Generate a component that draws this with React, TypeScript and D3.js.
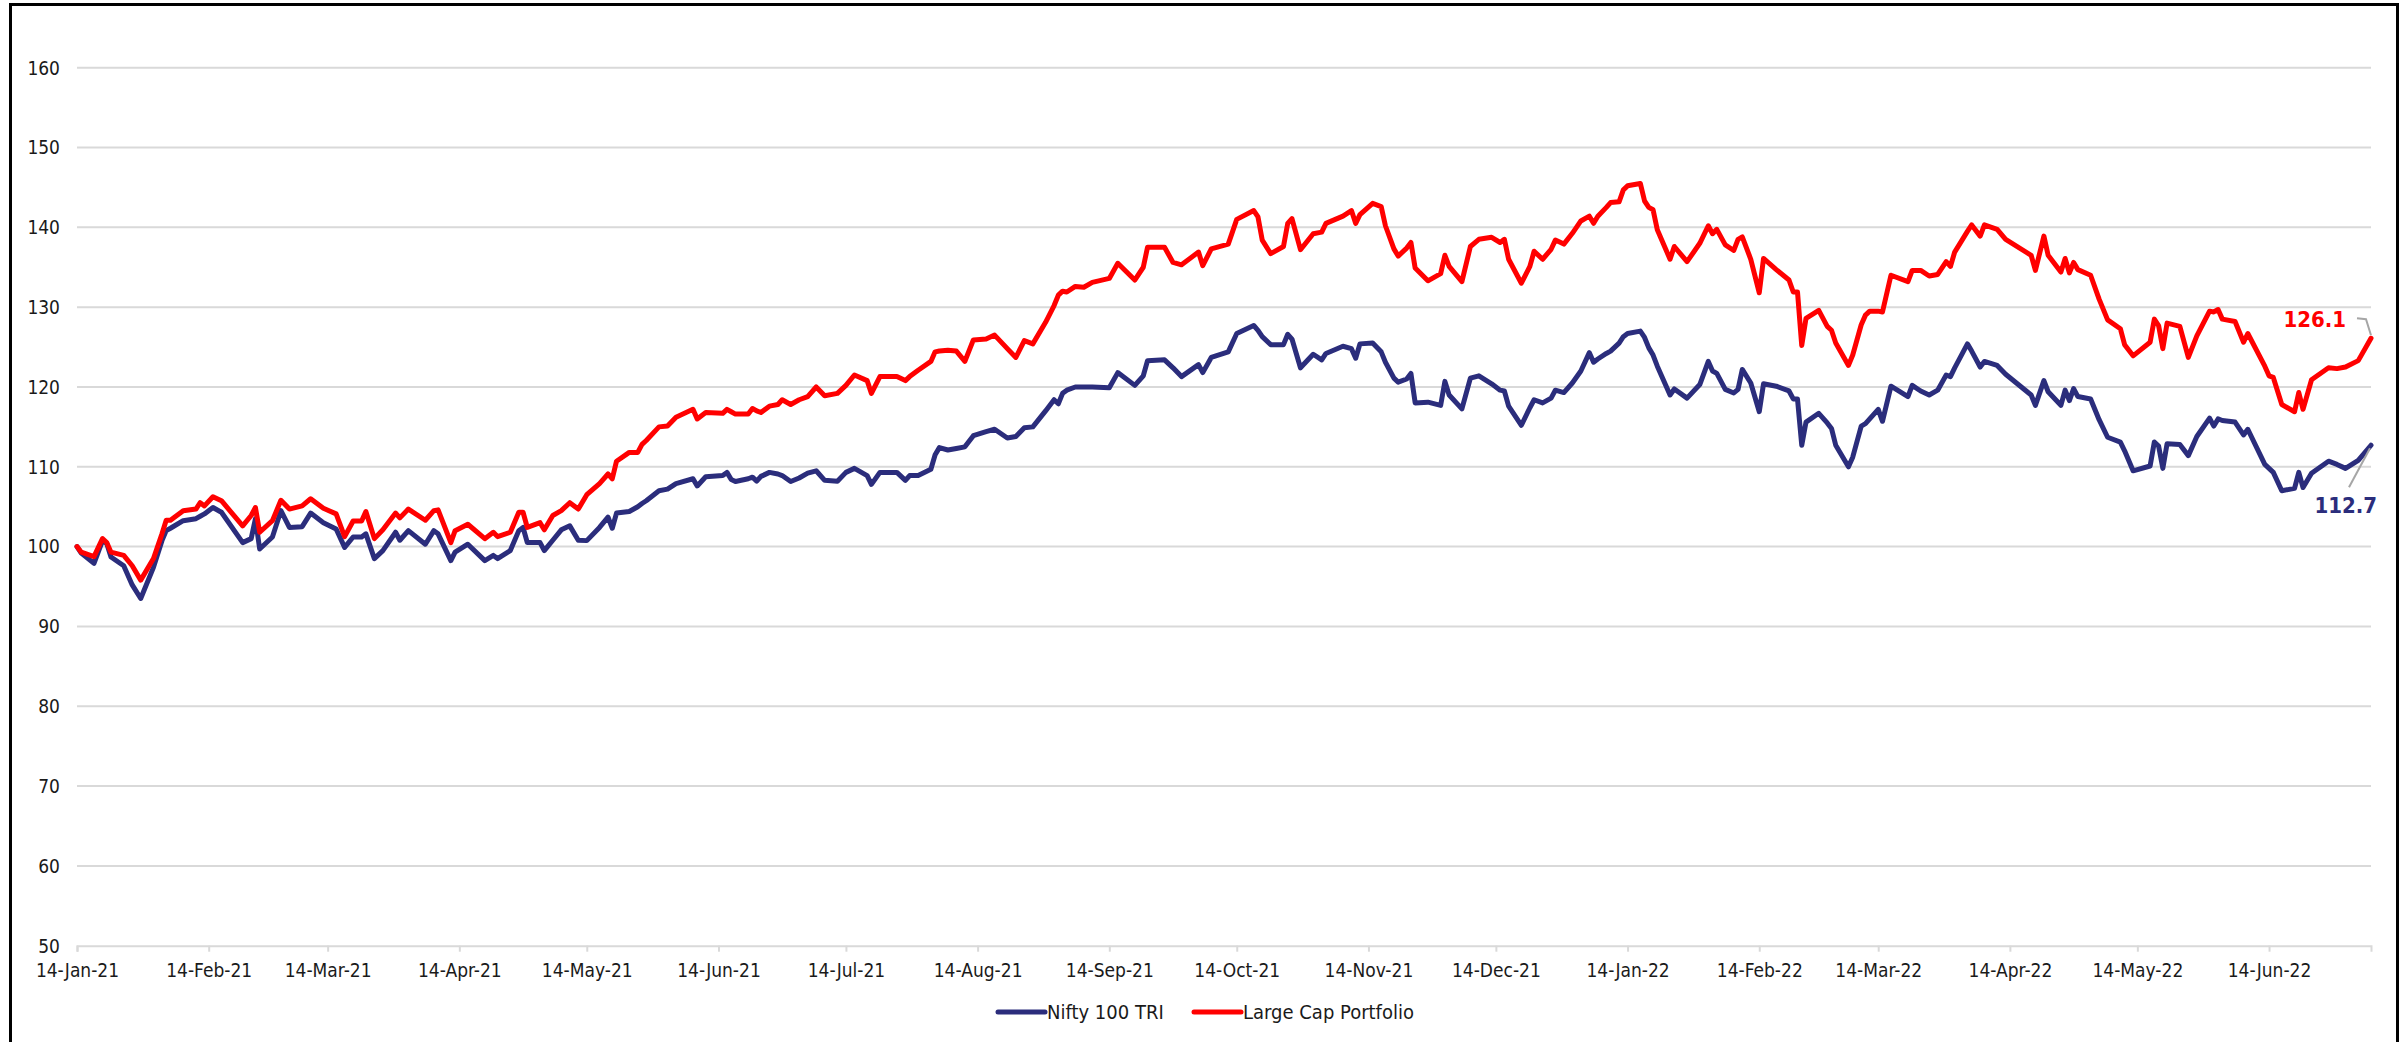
import { useEffect, useRef } from 'react';
import * as d3 from 'd3';

// rebased to 100 on 14-Jan-21
const dates = [
	'2021-01-14', '2021-01-15', '2021-01-18', '2021-01-20', '2021-01-21', '2021-01-22', '2021-01-25', '2021-01-27', '2021-01-29',
	'2021-02-01', '2021-02-03', '2021-02-04', '2021-02-05', '2021-02-08', '2021-02-11', '2021-02-12', '2021-02-13', '2021-02-15',
	'2021-02-17', '2021-02-22', '2021-02-24', '2021-02-25', '2021-02-26', '2021-03-01', '2021-03-03', '2021-03-05', '2021-03-08',
	'2021-03-10', '2021-03-13', '2021-03-16', '2021-03-18', '2021-03-20', '2021-03-22', '2021-03-23', '2021-03-25', '2021-03-27',
	'2021-03-30', '2021-03-31', '2021-04-02', '2021-04-06', '2021-04-08', '2021-04-09', '2021-04-12', '2021-04-13', '2021-04-16',
	'2021-04-20', '2021-04-22', '2021-04-23', '2021-04-26', '2021-04-28', '2021-04-29', '2021-04-30', '2021-05-03', '2021-05-04',
	'2021-05-06', '2021-05-08', '2021-05-10', '2021-05-12', '2021-05-14', '2021-05-17', '2021-05-19', '2021-05-20', '2021-05-21',
	'2021-05-24', '2021-05-26', '2021-05-27', '2021-05-28', '2021-05-31', '2021-06-02', '2021-06-04', '2021-06-08', '2021-06-09',
	'2021-06-11', '2021-06-15', '2021-06-16', '2021-06-17', '2021-06-18', '2021-06-21', '2021-06-22', '2021-06-23', '2021-06-24',
	'2021-06-26', '2021-06-28', '2021-06-29', '2021-07-01', '2021-07-03', '2021-07-05', '2021-07-07', '2021-07-09', '2021-07-12',
	'2021-07-14', '2021-07-16', '2021-07-19', '2021-07-20', '2021-07-22', '2021-07-26', '2021-07-28', '2021-07-29', '2021-07-31',
	'2021-08-03', '2021-08-04', '2021-08-05', '2021-08-07', '2021-08-09', '2021-08-11', '2021-08-13', '2021-08-16', '2021-08-18',
	'2021-08-21', '2021-08-23', '2021-08-25', '2021-08-27', '2021-08-30', '2021-09-01', '2021-09-02', '2021-09-03', '2021-09-04',
	'2021-09-06', '2021-09-08', '2021-09-10', '2021-09-14', '2021-09-16', '2021-09-20', '2021-09-22', '2021-09-23', '2021-09-27',
	'2021-09-29', '2021-10-01', '2021-10-05', '2021-10-06', '2021-10-08', '2021-10-12', '2021-10-14', '2021-10-18', '2021-10-19',
	'2021-10-20', '2021-10-22', '2021-10-25', '2021-10-26', '2021-10-27', '2021-10-29', '2021-11-01', '2021-11-03', '2021-11-04',
	'2021-11-08', '2021-11-10', '2021-11-11', '2021-11-12', '2021-11-15', '2021-11-17', '2021-11-18', '2021-11-20', '2021-11-21',
	'2021-11-23', '2021-11-24', '2021-11-25', '2021-11-28', '2021-12-01', '2021-12-02', '2021-12-03', '2021-12-06', '2021-12-08',
	'2021-12-10', '2021-12-13', '2021-12-15', '2021-12-16', '2021-12-17', '2021-12-20', '2021-12-22', '2021-12-23', '2021-12-25',
	'2021-12-27', '2021-12-28', '2021-12-30', '2022-01-01', '2022-01-03', '2022-01-05', '2022-01-06', '2022-01-07', '2022-01-09',
	'2022-01-10', '2022-01-12', '2022-01-13', '2022-01-14', '2022-01-17', '2022-01-18', '2022-01-19', '2022-01-20', '2022-01-21',
	'2022-01-24', '2022-01-25', '2022-01-28', '2022-01-31', '2022-02-02', '2022-02-03', '2022-02-04', '2022-02-06', '2022-02-08',
	'2022-02-09', '2022-02-10', '2022-02-12', '2022-02-14', '2022-02-15', '2022-02-18', '2022-02-21', '2022-02-22', '2022-02-23',
	'2022-02-24', '2022-02-25', '2022-02-28', '2022-03-02', '2022-03-03', '2022-03-04', '2022-03-07', '2022-03-08', '2022-03-10',
	'2022-03-11', '2022-03-12', '2022-03-14', '2022-03-15', '2022-03-17', '2022-03-21', '2022-03-22', '2022-03-24', '2022-03-26',
	'2022-03-28', '2022-03-30', '2022-03-31', '2022-04-01', '2022-04-04', '2022-04-05', '2022-04-07', '2022-04-08', '2022-04-11',
	'2022-04-13', '2022-04-19', '2022-04-20', '2022-04-22', '2022-04-23', '2022-04-26', '2022-04-27', '2022-04-28', '2022-04-29',
	'2022-04-30', '2022-05-03', '2022-05-05', '2022-05-07', '2022-05-10', '2022-05-11', '2022-05-13', '2022-05-17', '2022-05-18',
	'2022-05-19', '2022-05-20', '2022-05-21', '2022-05-24', '2022-05-26', '2022-05-28', '2022-05-31', '2022-06-01', '2022-06-02',
	'2022-06-03', '2022-06-06', '2022-06-08', '2022-06-09', '2022-06-13', '2022-06-14', '2022-06-15', '2022-06-17', '2022-06-20',
	'2022-06-21', '2022-06-22', '2022-06-24', '2022-06-28', '2022-06-30', '2022-07-02', '2022-07-05', '2022-07-08',
];

const nifty100Tri = [
	100, 99.2, 97.9, 100.75, 100.4, 98.7, 97.6, 95.2, 93.5,
	97.4, 100.75, 102, 102.3, 103.25, 103.5, 103.8, 104.1, 104.9,
	104.3, 100.5, 101, 103.5, 99.7, 101.2, 104.5, 102.4, 102.5,
	104.2, 103, 102.2, 99.9, 101.2, 101.2, 101.6, 98.5, 99.5,
	101.8, 100.8, 102, 100.3, 102, 101.6, 98.25, 99.3, 100.3,
	98.25, 98.9, 98.5, 99.5, 102, 102.4, 100.5, 100.5, 99.5,
	100.8, 102.1, 102.6, 100.8, 100.75, 102.4, 103.7, 102.3, 104.2,
	104.4, 105, 105.4, 105.75, 107, 107.2, 107.9, 108.5, 107.6,
	108.75, 108.9, 109.3, 108.4, 108.15, 108.5, 108.7, 108.2, 108.8,
	109.3, 109.1, 108.9, 108.15, 108.6, 109.2, 109.5, 108.3, 108.2,
	109.3, 109.8, 108.9, 107.8, 109.3, 109.3, 108.3, 108.9, 108.9,
	109.7, 111.5, 112.4, 112.1, 112.3, 112.5, 113.9, 114.4, 114.7,
	113.6, 113.8, 114.9, 115, 117, 118.4, 117.9, 119.2, 119.6,
	120, 120, 120, 119.9, 121.8, 120.2, 121.4, 123.3, 123.4,
	122.4, 121.3, 122.8, 121.8, 123.7, 124.4, 126.7, 127.7, 127.1,
	126.3, 125.3, 125.3, 126.6, 126, 122.4, 124.1, 123.4, 124.2,
	125.1, 124.8, 123.6, 125.4, 125.5, 124.4, 123.1, 121.1, 120.6,
	121, 121.7, 118, 118.1, 117.7, 120.7, 119, 117.25, 121.1,
	121.4, 120.4, 119.6, 119.5, 117.6, 115.2, 117.4, 118.4, 118,
	118.6, 119.6, 119.3, 120.5, 122, 124.3, 123.1, 123.5, 124.2,
	124.5, 125.5, 126.3, 126.7, 127, 126.2, 124.9, 124, 122.6,
	119, 119.75, 118.6, 120.3, 123.2, 122, 121.7, 119.7, 119.25,
	119.7, 122.2, 120.5, 116.9, 120.4, 120.1, 119.5, 118.5, 118.5,
	112.7, 115.6, 116.7, 115.5, 114.8, 112.7, 110, 111.2, 115.1,
	115.4, 116, 117.2, 115.7, 120.1, 118.8, 120.2, 119.5, 119,
	119.6, 121.5, 121.3, 122.4, 125.4, 124.5, 122.5, 123.2, 122.7,
	121.6, 119, 117.7, 120.8, 119.4, 117.7, 119.6, 118.3, 119.8,
	118.8, 118.5, 115.9, 113.7, 113.1, 112, 109.5, 110.1, 113.1,
	112.6, 109.8, 112.9, 112.8, 111.4, 113.8, 116.1, 115.1, 116,
	115.8, 115.6, 114, 114.7, 110.3, 109.8, 109.3, 107, 107.3,
	109.3, 107.4, 109.2, 110.7, 110.3, 109.8, 110.8, 112.7,
];

const largeCapPortfolio = [
	100, 99.3, 98.75, 101, 100.5, 99.3, 98.9, 97.6, 95.8,
	98.5, 101.6, 103.3, 103.3, 104.5, 104.7, 105.5, 105.1, 106.25,
	105.75, 102.6, 103.9, 104.9, 101.8, 103.25, 105.8, 104.7, 105.1,
	106, 104.8, 104.1, 101.25, 103.2, 103.2, 104.4, 101, 102.1,
	104.2, 103.6, 104.7, 103.3, 104.5, 104.6, 100.5, 102, 102.8,
	101, 101.8, 101.25, 101.8, 104.3, 104.3, 102.4, 103, 102.1,
	103.9, 104.5, 105.5, 104.7, 106.5, 107.9, 109.1, 108.5, 110.7,
	111.8, 111.8, 112.8, 113.3, 115, 115.1, 116.2, 117.2, 116,
	116.8, 116.7, 117.2, 116.9, 116.6, 116.6, 117.3, 117, 116.8,
	117.6, 117.8, 118.4, 117.8, 118.4, 118.8, 120, 118.9, 119.2,
	120.2, 121.5, 120.8, 119.2, 121.3, 121.3, 120.8, 121.3, 122.1,
	123.2, 124.4, 124.5, 124.6, 124.5, 123.2, 125.9, 126, 126.5,
	124.8, 123.7, 125.8, 125.4, 128.1, 130.2, 131.5, 132, 131.9,
	132.6, 132.5, 133.1, 133.6, 135.5, 133.4, 135, 137.5, 137.5,
	135.6, 135.3, 136.9, 135.2, 137.3, 137.9, 141, 142.1, 141.3,
	138.4, 136.7, 137.6, 140.5, 141.1, 137.2, 139.2, 139.4, 140.5,
	141.4, 142.1, 140.5, 141.6, 143, 142.6, 140.2, 137.3, 136.4,
	137.4, 138.1, 134.9, 133.3, 134.2, 136.5, 135.1, 133.2, 137.6,
	138.5, 138.75, 138.1, 138.5, 136, 133, 135.1, 137, 136,
	137.25, 138.4, 137.9, 139.25, 140.8, 141.4, 140.5, 141.4, 142.5,
	143.1, 143.2, 144.7, 145.2, 145.5, 143.3, 142.5, 142.2, 139.7,
	136, 137.6, 135.7, 138, 140.2, 139.2, 139.75, 137.8, 137.1,
	138.5, 138.8, 136, 131.8, 136.1, 134.7, 133.4, 131.9, 131.9,
	125.2, 128.6, 129.6, 127.6, 127.1, 125.5, 122.7, 124, 127.8,
	129, 129.5, 129.5, 129.4, 134, 133.2, 134.6, 134.6, 133.9,
	134.1, 135.7, 135.1, 136.9, 139.5, 140.3, 138.9, 140.3, 139.75,
	138.5, 136.5, 134.6, 138.9, 136.5, 134.4, 136.1, 134.3, 135.6,
	134.7, 134, 131, 128.4, 127.3, 125.3, 123.9, 125.6, 128.5,
	127.7, 124.8, 128, 127.6, 123.7, 126.4, 129.5, 129.4, 129.7,
	128.5, 128.2, 125.6, 126.7, 122.6, 121.4, 121.2, 117.8, 116.9,
	119.3, 117.2, 120.9, 122.4, 122.3, 122.5, 123.3, 126.1,
];

const yTicks = [50, 60, 70, 80, 90, 100, 110, 120, 130, 140, 150, 160];
const xTicks = [
	'2021-01-14', '2021-02-14', '2021-03-14', '2021-04-14', '2021-05-14', '2021-06-14', '2021-07-14', '2021-08-14', '2021-09-14',
	'2021-10-14', '2021-11-14', '2021-12-14', '2022-01-14', '2022-02-14', '2022-03-14', '2022-04-14', '2022-05-14', '2022-06-14',
];

const seriesNames = ['Nifty 100 TRI', 'Large Cap Portfolio'];
const seriesColors = ['#2b2d7c', '#ff0000'];

const FONT = "'DejaVu Sans Condensed', 'DejaVu Sans', sans-serif";

const App = () => {
	const ref = useRef<SVGSVGElement>(null);

	useEffect(() => {
		const W = 2407,
			H = 1042;
		const plot = { left: 77, right: 2371, top: 67.7, bottom: 945.7 };

		const svg = d3.select(ref.current).attr('width', W).attr('height', H);
		svg.selectAll('*').remove();

		const parse = d3.timeParse('%Y-%m-%d');
		const xDates = dates.map((d) => parse(d) as Date);

		const x = d3
			.scaleTime()
			.domain([xDates[0], xDates[xDates.length - 1]])
			.range([plot.left, plot.right]);
		const y = d3.scaleLinear().domain([50, 160]).range([plot.bottom, plot.top]);

		svg.append('rect').attr('width', W).attr('height', H).attr('fill', '#fff');

		// gridlines
		svg
			.append('g')
			.selectAll('line')
			.data(yTicks.filter((t) => t > 50))
			.join('line')
			.attr('x1', plot.left)
			.attr('x2', plot.right)
			.attr('y1', (d) => y(d))
			.attr('y2', (d) => y(d))
			.attr('stroke', '#d9d9d9')
			.attr('stroke-width', 2);

		// y labels
		svg
			.append('g')
			.selectAll('text')
			.data(yTicks)
			.join('text')
			.attr('x', 60)
			.attr('y', (d) => y(d))
			.attr('dy', '0.36em')
			.attr('text-anchor', 'end')
			.attr('font-family', FONT)
			.attr('font-size', 19)
			.attr('fill', '#1a1a1a')
			.text((d) => d);

		// x axis
		const xAxis = d3
			.axisBottom(x)
			.tickValues(xTicks.map((d) => parse(d) as Date))
			.tickFormat((d) => d3.timeFormat('%d-%b-%y')(d as Date))
			.tickSizeOuter(0)
			.tickSize(6)
			.tickPadding(12);

		const gx = svg.append('g').attr('transform', `translate(0, ${plot.bottom})`).call(xAxis);
		gx.select('.domain').attr('stroke', '#d9d9d9').attr('stroke-width', 2);
		gx.selectAll('.tick line').attr('stroke', '#d9d9d9').attr('stroke-width', 2);
		gx.selectAll('.tick text')
			.attr('font-family', FONT)
			.attr('font-size', 19)
			.attr('fill', '#1a1a1a');

		// lines
		const series = [nifty100Tri, largeCapPortfolio];
		const line = d3
			.line<number>()
			.x((_, i) => x(xDates[i]))
			.y((d) => y(d));

		series.forEach((values, k) => {
			svg
				.append('path')
				.datum(values)
				.attr('fill', 'none')
				.attr('stroke', seriesColors[k])
				.attr('stroke-width', 5)
				.attr('stroke-linejoin', 'round')
				.attr('stroke-linecap', 'round')
				.attr('d', line);
		});

		// end labels with leader lines
		const last = xDates.length - 1;
		const xe = x(xDates[last]);
		const yRed = y(largeCapPortfolio[last]);
		const yBlue = y(nifty100Tri[last]);

		svg
			.append('polyline')
			.attr('points', `${xe - 14},${yRed - 20} ${xe - 5},${yRed - 19} ${xe},${yRed - 3}`)
			.attr('fill', 'none')
			.attr('stroke', '#a6a6a6')
			.attr('stroke-width', 2);
		svg
			.append('text')
			.attr('x', xe - 25)
			.attr('y', yRed - 19)
			.attr('dy', '0.36em')
			.attr('text-anchor', 'end')
			.attr('font-family', FONT)
			.attr('font-weight', 'bold')
			.attr('font-size', 22)
			.attr('fill', seriesColors[1])
			.text(largeCapPortfolio[last].toFixed(1));

		svg
			.append('line')
			.attr('x1', xe - 22)
			.attr('y1', yBlue + 42)
			.attr('x2', xe - 1)
			.attr('y2', yBlue + 3)
			.attr('stroke', '#a6a6a6')
			.attr('stroke-width', 2);
		svg
			.append('text')
			.attr('x', xe + 6)
			.attr('y', yBlue + 60)
			.attr('dy', '0.36em')
			.attr('text-anchor', 'end')
			.attr('font-family', FONT)
			.attr('font-weight', 'bold')
			.attr('font-size', 22)
			.attr('fill', seriesColors[0])
			.text(nifty100Tri[last].toFixed(1));

		// legend
		const legend = svg.append('g').attr('transform', 'translate(998, 1012)');
		const legendX = [0, 196];
		seriesNames.forEach((name, k) => {
			const g = legend.append('g').attr('transform', `translate(${legendX[k]}, 0)`);
			g.append('line')
				.attr('x1', 0)
				.attr('x2', 47)
				.attr('stroke', seriesColors[k])
				.attr('stroke-width', 5)
				.attr('stroke-linecap', 'round');
			g.append('text')
				.attr('x', 49)
				.attr('dy', '0.36em')
				.attr('font-family', FONT)
				.attr('font-size', 20)
				.attr('fill', '#1a1a1a')
				.text(name);
		});

		// outer border
		svg
			.append('rect')
			.attr('x', 10.5)
			.attr('y', 4.5)
			.attr('width', 2387)
			.attr('height', 1060)
			.attr('fill', 'none')
			.attr('stroke', '#000')
			.attr('stroke-width', 3);
	}, []);

	return <svg ref={ref} style={{ position: 'absolute', left: 0, top: 0, display: 'block' }} />;
};

export default App;
